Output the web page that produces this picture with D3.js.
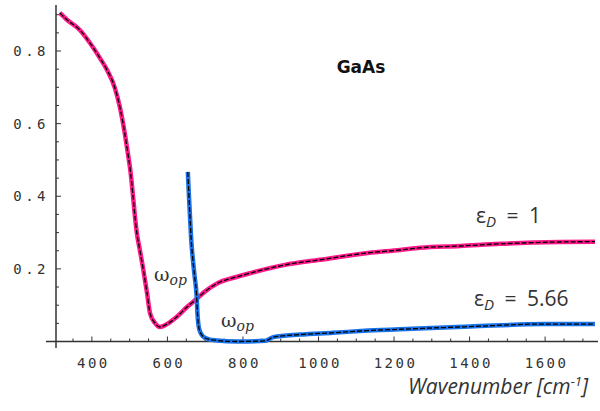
<!DOCTYPE html>
<html>
<head>
<meta charset="utf-8">
<script src="https://cdn.jsdelivr.net/npm/d3@7"></script>
<style>
  body { margin: 0; background: #fff; }
  svg { display: block; }
</style>
</head>
<body>
<svg id="chart" width="600" height="411"></svg>
<script>
// reflectance of GaAs
const wnD1 = [315, 334, 368, 395, 421, 440, 461, 474, 487, 495, 502, 508, 513, 519, 527, 535, 546, 554, 567, 580, 599, 625, 652, 678, 700, 734, 780, 822, 911, 1004, 1131, 1216, 1269, 1375, 1481, 1640, 1732];
const rD1 = [0.905, 0.886, 0.858, 0.822, 0.781, 0.748, 0.698, 0.646, 0.574, 0.520, 0.470, 0.410, 0.355, 0.299, 0.252, 0.205, 0.134, 0.078, 0.051, 0.040, 0.048, 0.068, 0.095, 0.118, 0.138, 0.161, 0.177, 0.189, 0.211, 0.225, 0.244, 0.252, 0.258, 0.263, 0.269, 0.274, 0.275];

const wnD566 = [654, 657, 660, 663, 667, 672, 677, 680, 684, 694, 710, 731, 784, 860, 880, 951, 1038, 1131, 1248, 1401, 1595, 1732];
const rD566 = [0.467, 0.40, 0.34, 0.28, 0.23, 0.18, 0.13, 0.07, 0.035, 0.014, 0.006, 0.003, 0.0, 0.002, 0.012, 0.019, 0.024, 0.030, 0.035, 0.041, 0.048, 0.048];

const xMajor = [400, 600, 800, 1000, 1200, 1400, 1600];
const yMajor = [0.2, 0.4, 0.6, 0.8];

const svg = d3.select("#chart");
const x = d3.scaleLinear().domain([305, 1740]).range([56, 598]);
const y = d3.scaleLinear().domain([0, 0.8]).range([341.5, 51]);

const axisColor = "#333";

// axes (Mathematica style, crossing lines)
svg.append("line").attr("x1", 46).attr("x2", 598).attr("y1", y(0)).attr("y2", y(0))
    .attr("stroke", axisColor).attr("stroke-width", 1.5);
svg.append("line").attr("x1", x(305)).attr("x2", x(305)).attr("y1", y(0.927)).attr("y2", 348)
    .attr("stroke", axisColor).attr("stroke-width", 1.5);

// x ticks, minor every 50
const xTicks = d3.range(350, 1740, 50);
svg.append("g").selectAll("line").data(xTicks).join("line")
    .attr("x1", d => x(d)).attr("x2", d => x(d))
    .attr("y1", y(0)).attr("y2", d => y(0) - (d % 200 === 0 ? 5 : 3))
    .attr("stroke", axisColor).attr("stroke-width", 1);

const yTicks = d3.range(0.05, 0.93, 0.05);
svg.append("g").selectAll("line").data(yTicks).join("line")
    .attr("x1", x(305)).attr("x2", d => x(305) + (Math.abs(d * 5 - Math.round(d * 5)) < 1e-6 ? 5 : 3))
    .attr("y1", d => y(d)).attr("y2", d => y(d))
    .attr("stroke", axisColor).attr("stroke-width", 1);

const tickFont = "'DejaVu Sans Mono', monospace";
svg.append("g").selectAll("text").data(xMajor).join("text")
    .attr("x", d => x(d) + 1.5).attr("y", 368)
    .attr("text-anchor", "middle")
    .attr("font-family", tickFont).attr("font-size", 14).attr("letter-spacing", 2.5)
    .attr("fill", "#333")
    .text(d => d);

svg.append("g").selectAll("text").data(yMajor).join("text")
    .attr("x", 49).attr("y", d => y(d) + 5)
    .attr("text-anchor", "end")
    .attr("font-family", tickFont).attr("font-size", 14).attr("letter-spacing", 3.5)
    .attr("fill", "#333")
    .text(d => d.toFixed(1));

// curves: thick colour line with a black dashed line on top
const line = d3.line().x(d => x(d[0])).y(d => y(d[1])).curve(d3.curveMonotoneX);
const series = [
    {wn: wnD1, r: rD1, color: "#ff1a8c"},
    {wn: wnD566, r: rD566, color: "#1a73e8"}
];
series.forEach(s => {
    const pts = s.wn.map((w, i) => [w, s.r[i]]);
    svg.append("path").datum(pts).attr("d", line)
        .attr("fill", "none").attr("stroke", s.color).attr("stroke-width", 4.5)
        .attr("stroke-linejoin", "round");
    svg.append("path").datum(pts).attr("d", line)
        .attr("fill", "none").attr("stroke", "#000").attr("stroke-width", 1.3)
        .attr("stroke-dasharray", "5,2");
});

// labels
svg.append("text").attr("x", 361).attr("y", 73).attr("text-anchor", "middle")
    .attr("font-family", "'DejaVu Sans', sans-serif").attr("font-weight", "bold").attr("font-size", 17)
    .attr("fill", "#111").text("GaAs");

function epsLabel(xp, yp, val) {
    const t = svg.append("text").attr("x", xp).attr("y", yp)
        .attr("font-family", "'Open Sans', sans-serif").attr("font-size", 21).attr("fill", "#333");
    t.append("tspan").text("ε");
    t.append("tspan").attr("font-style", "italic").attr("font-size", 15).attr("dy", 4).text("D");
    t.append("tspan").attr("dy", -4).text("\u2002=\u2002" + val);
}
epsLabel(476, 223, "1");
epsLabel(474, 306, "5.66");

function omegaLabel(xp, yp) {
    const t = svg.append("text").attr("x", xp).attr("y", yp)
        .attr("font-family", "'DejaVu Serif', serif").attr("font-size", 19).attr("fill", "#333");
    t.append("tspan").text("ω");
    t.append("tspan").attr("font-style", "italic").attr("font-size", 14).attr("dy", 4).text("op");
}
omegaLabel(154, 281);
omegaLabel(221, 327);

const xl = svg.append("text").attr("x", 588).attr("y", 394).attr("text-anchor", "end")
    .attr("font-family", "'Open Sans', sans-serif").attr("font-style", "italic").attr("font-size", 21)
    .attr("fill", "#333");
xl.append("tspan").text("Wavenumber [cm");
xl.append("tspan").attr("font-size", 13).attr("dy", -8).text("-1");
xl.append("tspan").attr("dy", 8).text("]");
</script>
</body>
</html>
